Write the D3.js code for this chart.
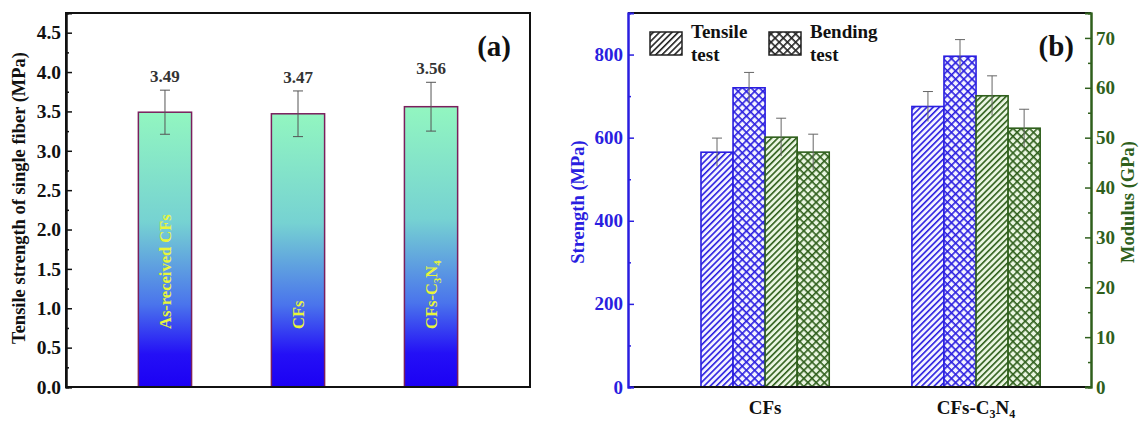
<!DOCTYPE html>
<html>
<head>
<meta charset="utf-8">
<script src="https://cdn.jsdelivr.net/npm/d3@7"></script>
<style>
  body { margin: 0; background: #fff; }
  text { font-family: "Liberation Serif", "Times New Roman", serif; font-weight: bold; }
</style>
</head>
<body>
<svg id="chart" width="1140" height="421"></svg>
<script>
// panel (a) data
var fibers = ["As-received CFs", "CFs", "CFs-C3N4"];
var fiberStrength = [3.49, 3.47, 3.56];
var fiberErr = [0.28, 0.29, 0.31];

// panel (b) data
var groups = ["CFs", "CFs-C3N4"];
var tensileStrength = [565, 675];
var tensileStrengthErr = [34, 36];
var bendingStrength = [720, 796];
var bendingStrengthErr = [37, 40];
var tensileModulus = [50.1, 58.4];
var tensileModulusErr = [3.8, 4.0];
var bendingModulus = [47.1, 51.9];
var bendingModulusErr = [3.6, 3.8];

var svg = d3.select("#chart");
var defs = svg.append("defs");

var blue = "#2a1ee0", green = "#2f5f1c";

// gradient for panel (a)
var grad = defs.append("linearGradient")
  .attr("id", "barGrad")
  .attr("x1", 0).attr("y1", 0).attr("x2", 0).attr("y2", 1);
[[0, "#92f6c0"], [0.4, "#76d2d2"], [0.7, "#4a74ec"], [0.88, "#2410f6"], [1, "#1c00f4"]].forEach(function(s) {
  grad.append("stop").attr("offset", s[0]).attr("stop-color", s[1]);
});

// hatch patterns
function hatch(id, color, bg, cross) {
  var size = cross ? 5.8 : 4.4;
  var p = defs.append("pattern")
    .attr("id", id)
    .attr("patternUnits", "userSpaceOnUse")
    .attr("width", size).attr("height", size)
    .attr("patternTransform", "rotate(45)");
  p.append("rect").attr("width", size).attr("height", size).attr("fill", bg);
  p.append("line").attr("x1", 0.8).attr("y1", 0).attr("x2", 0.8).attr("y2", size)
    .attr("stroke", color).attr("stroke-width", 1.6);
  if (cross) {
    p.append("line").attr("x1", 0).attr("y1", 0.8).attr("x2", size).attr("y2", 0.8)
      .attr("stroke", color).attr("stroke-width", 1.6);
  }
}
hatch("blueDiag", blue, "#f4f4ff", false);
hatch("blueCross", blue, "#f4f4ff", true);
hatch("greenDiag", green, "#eaf6e2", false);
hatch("greenCross", green, "#eaf6e2", true);
hatch("blackDiag", "#222", "#fff", false);
hatch("blackCross", "#222", "#fff", true);

// ---------- panel (a) ----------
var a = {left: 66, top: 13, right: 530, bottom: 387};

var xA = d3.scaleBand()
  .domain(fibers)
  .range([a.left, a.right])
  .paddingInner(0.6)
  .paddingOuter(0.544);

var yA = d3.scaleLinear().domain([0, 4.75]).range([a.bottom, a.top]);

var gA = svg.append("g");

gA.selectAll("rect.bar")
  .data(fibers)
  .enter()
  .append("rect")
  .attr("class", "bar")
  .attr("x", function(d) { return xA(d); })
  .attr("y", function(d, i) { return yA(fiberStrength[i]); })
  .attr("width", xA.bandwidth())
  .attr("height", function(d, i) { return yA(0) - yA(fiberStrength[i]); })
  .attr("fill", "url(#barGrad)")
  .attr("stroke", "#7a1f5c")
  .attr("stroke-width", 1.5);

function addChem(sel, label, sub) {
  if (label.indexOf("C3N4") < 0) { sel.text(label); return; }
  var pre = label.replace("C3N4", "");
  sel.append("tspan").text(pre + "C");
  sel.append("tspan").attr("font-size", sub + "px").attr("dy", 4).text("3");
  sel.append("tspan").attr("dy", -4).text("N");
  sel.append("tspan").attr("font-size", sub + "px").attr("dy", 4).text("4");
}

// error bars, values and labels
fibers.forEach(function(d, i) {
  var cx = xA(d) + xA.bandwidth() / 2;
  var hi = yA(fiberStrength[i] + fiberErr[i]), lo = yA(fiberStrength[i] - fiberErr[i]);
  gA.append("line").attr("x1", cx).attr("x2", cx).attr("y1", hi).attr("y2", lo)
    .attr("stroke", "#555").attr("stroke-width", 1);
  [hi, lo].forEach(function(y) {
    gA.append("line").attr("x1", cx - 5).attr("x2", cx + 5).attr("y1", y).attr("y2", y)
      .attr("stroke", "#555").attr("stroke-width", 1);
  });
  gA.append("text")
    .attr("x", cx)
    .attr("y", hi - 8)
    .attr("text-anchor", "middle")
    .attr("font-size", "17px")
    .attr("fill", "#333")
    .text(d3.format(".2f")(fiberStrength[i]));

  var lab = gA.append("text")
    .attr("transform", "translate(" + (cx + 6) + "," + 329 + ") rotate(-90)")
    .attr("font-size", "16.5px")
    .attr("fill", "#e8f53a");
  addChem(lab, d, 11);
});

// axes (a)
gA.append("rect")
  .attr("x", a.left).attr("y", a.top)
  .attr("width", a.right - a.left).attr("height", a.bottom - a.top)
  .attr("fill", "none").attr("stroke", "#111").attr("stroke-width", 2);

var axA = gA.append("g")
  .attr("transform", "translate(" + a.left + ",0)")
  .call(d3.axisLeft(yA).tickValues(d3.range(0, 4.51, 0.5)).tickFormat(d3.format(".1f"))
    .tickSize(-6).tickPadding(5));
var axAm = gA.append("g")
  .attr("transform", "translate(" + a.left + ",0)")
  .call(d3.axisLeft(yA).tickValues(d3.range(0.25, 4.75, 0.5)).tickFormat("").tickSize(-3));
[axA, axAm].forEach(function(g) {
  g.select(".domain").attr("stroke", "#111").attr("stroke-width", 2);
  g.selectAll(".tick line").attr("stroke", "#111").attr("stroke-width", 1.5);
  g.selectAll("text").attr("font-size", "19.5px").attr("fill", "#111")
    .attr("font-family", "Liberation Serif");
});

gA.append("text")
  .attr("transform", "translate(25,198) rotate(-90)")
  .attr("text-anchor", "middle")
  .attr("font-size", "18.5px")
  .attr("fill", "#111")
  .text("Tensile strength of single fiber (MPa)");

gA.append("text")
  .attr("x", 511).attr("y", 56)
  .attr("text-anchor", "end")
  .attr("font-size", "29px")
  .attr("fill", "#111")
  .text("(a)");

// ---------- panel (b) ----------
var b = {left: 628, top: 13, right: 1091, bottom: 387};

var xB = d3.scaleLinear().domain([0.35, 2.545]).range([b.left, b.right]);
var yS = d3.scaleLinear().domain([0, 900]).range([b.bottom, b.top]);
var yM = d3.scaleLinear().domain([0, 75]).range([b.bottom, b.top]);
var barW = (xB(2) - xB(1)) * 0.152;

var series = [
  {vals: tensileStrength, err: tensileStrengthErr, y: yS, fill: "url(#blueDiag)", stroke: blue},
  {vals: bendingStrength, err: bendingStrengthErr, y: yS, fill: "url(#blueCross)", stroke: blue},
  {vals: tensileModulus, err: tensileModulusErr, y: yM, fill: "url(#greenDiag)", stroke: green},
  {vals: bendingModulus, err: bendingModulusErr, y: yM, fill: "url(#greenCross)", stroke: green}
];

var gB = svg.append("g");

series.forEach(function(s, k) {
  groups.forEach(function(gname, i) {
    var x0 = xB(i + 1) + (k - 2) * barW;
    var cx = x0 + barW / 2;
    var hi = s.y(s.vals[i] + s.err[i]), lo = s.y(s.vals[i] - s.err[i]);
    gB.append("rect")
      .attr("x", x0)
      .attr("y", s.y(s.vals[i]))
      .attr("width", barW)
      .attr("height", s.y(0) - s.y(s.vals[i]))
      .attr("fill", s.fill)
      .attr("stroke", s.stroke)
      .attr("stroke-width", 1.6);
    gB.append("line").attr("x1", cx).attr("x2", cx).attr("y1", hi).attr("y2", lo)
      .attr("stroke", "#666").attr("stroke-width", 1);
    gB.append("line").attr("x1", cx - 5).attr("x2", cx + 5).attr("y1", hi).attr("y2", hi)
      .attr("stroke", "#666").attr("stroke-width", 1);
  });
});

// frame top / bottom
gB.append("line").attr("x1", b.left).attr("x2", b.right).attr("y1", b.top).attr("y2", b.top)
  .attr("stroke", "#111").attr("stroke-width", 2);
gB.append("line").attr("x1", b.left).attr("x2", b.right).attr("y1", b.bottom).attr("y2", b.bottom)
  .attr("stroke", "#111").attr("stroke-width", 2);

function styleAxis(g, color) {
  g.select(".domain").attr("stroke", color).attr("stroke-width", 2);
  g.selectAll(".tick line").attr("stroke", color).attr("stroke-width", 1.5);
  g.selectAll("text").attr("font-size", "19px").attr("fill", color)
    .attr("font-family", "Liberation Serif");
}

styleAxis(gB.append("g").attr("transform", "translate(" + b.left + ",0)")
  .call(d3.axisLeft(yS).tickValues(d3.range(0, 801, 200)).tickSize(-6).tickPadding(5)), blue);
styleAxis(gB.append("g").attr("transform", "translate(" + b.left + ",0)")
  .call(d3.axisLeft(yS).tickValues(d3.range(100, 900, 200)).tickFormat("").tickSize(-3)), blue);
styleAxis(gB.append("g").attr("transform", "translate(" + b.right + ",0)")
  .call(d3.axisRight(yM).tickValues(d3.range(0, 71, 10)).tickSize(-6).tickPadding(5)), green);
styleAxis(gB.append("g").attr("transform", "translate(" + b.right + ",0)")
  .call(d3.axisRight(yM).tickValues(d3.range(5, 75, 10)).tickFormat("").tickSize(-3)), green);

// category labels
groups.forEach(function(gname, i) {
  var t = gB.append("text")
    .attr("x", xB(i + 1))
    .attr("y", 414)
    .attr("text-anchor", "middle")
    .attr("font-size", "19px")
    .attr("fill", "#111");
  addChem(t, gname, 12);
});

gB.append("text")
  .attr("transform", "translate(584,202) rotate(-90)")
  .attr("text-anchor", "middle")
  .attr("font-size", "18.5px")
  .attr("fill", blue)
  .text("Strength (MPa)");

gB.append("text")
  .attr("transform", "translate(1134,202) rotate(-90)")
  .attr("text-anchor", "middle")
  .attr("font-size", "18.5px")
  .attr("fill", green)
  .text("Modulus (GPa)");

gB.append("text")
  .attr("x", 1074).attr("y", 56)
  .attr("text-anchor", "end")
  .attr("font-size", "29px")
  .attr("fill", "#111")
  .text("(b)");

// legend
var legend = [
  {fill: "url(#blackDiag)", x: 650, lines: ["Tensile", "test"]},
  {fill: "url(#blackCross)", x: 769, lines: ["Bending", "test"]}
];
legend.forEach(function(l) {
  gB.append("rect")
    .attr("x", l.x).attr("y", 32).attr("width", 32).attr("height", 23)
    .attr("fill", l.fill).attr("stroke", "#222").attr("stroke-width", 1.5);
  l.lines.forEach(function(s, j) {
    gB.append("text")
      .attr("x", l.x + 41).attr("y", 38 + j * 23)
      .attr("font-size", "19px")
      .attr("fill", "#111")
      .text(s);
  });
});
</script>
</body>
</html>
